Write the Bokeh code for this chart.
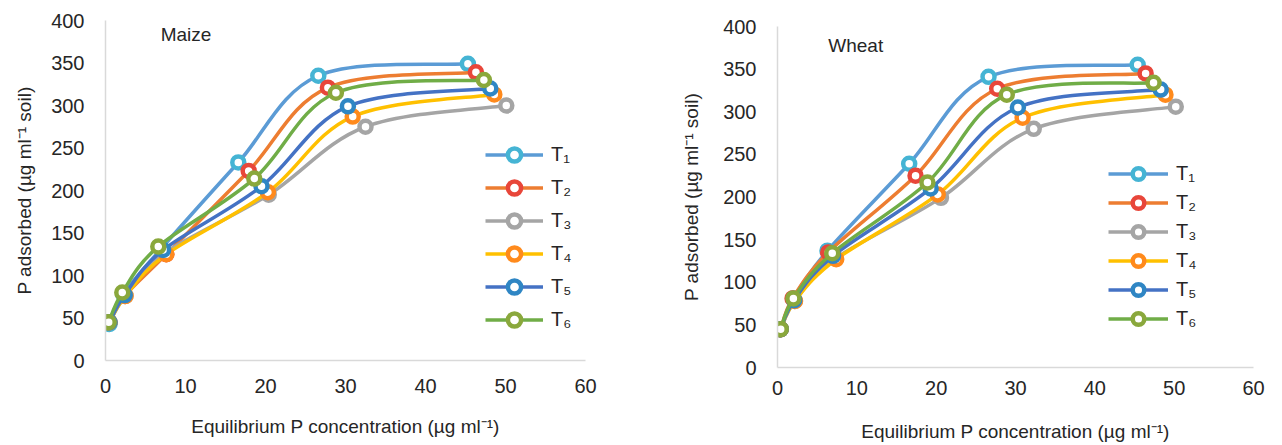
import numpy as np
from bokeh.plotting import figure
from bokeh.models import Range1d, FixedTicker, Legend, LegendItem, Label, Spacer
from bokeh.layouts import row, column
from bokeh.embed import file_html
from bokeh.resources import INLINE

# ---------------- data ----------------
series_labels = ["T\u2081", "T\u2082", "T\u2083", "T\u2084", "T\u2085", "T\u2086"]
x_ticks = [0, 10, 20, 30, 40, 50, 60]
y_ticks = [0, 50, 100, 150, 200, 250, 300, 350, 400]

# Maize
maize_t1_x = [0.5, 2.2, 7.0, 16.6, 26.6, 45.3]
maize_t1_y = [43, 78, 132, 233, 335, 349]
maize_t2_x = [0.5, 2.4, 7.6, 17.9, 27.8, 46.3]
maize_t2_y = [45, 76, 125, 223, 321, 339]
maize_t3_x = [0.5, 2.5, 7.5, 20.4, 32.5, 50.1]
maize_t3_y = [45, 76, 127, 195, 275, 300]
maize_t4_x = [0.5, 2.5, 7.6, 20.3, 30.9, 48.6]
maize_t4_y = [45, 76, 125, 198, 287, 313]
maize_t5_x = [0.5, 2.4, 7.2, 19.5, 30.3, 48.1]
maize_t5_y = [45, 77, 130, 205, 299, 320]
maize_t6_x = [0.4, 2.1, 6.6, 18.6, 28.8, 47.3]
maize_t6_y = [45, 80, 134, 214, 315, 330]

# Wheat
wheat_t1_x = [0.4, 2.0, 6.3, 16.6, 26.6, 45.4]
wheat_t1_y = [45, 81, 137, 239, 341, 355]
wheat_t2_x = [0.4, 1.9, 6.4, 17.4, 27.7, 46.4]
wheat_t2_y = [45, 81, 135, 225, 327, 345]
wheat_t3_x = [0.4, 2.2, 7.3, 20.6, 32.3, 50.2]
wheat_t3_y = [45, 78, 128, 199, 280, 306]
wheat_t4_x = [0.4, 2.2, 7.4, 20.2, 30.9, 48.9]
wheat_t4_y = [45, 78, 127, 203, 293, 320]
wheat_t5_x = [0.4, 2.1, 7.0, 19.3, 30.3, 48.3]
wheat_t5_y = [45, 79, 131, 210, 305, 326]
wheat_t6_x = [0.4, 2.0, 6.9, 18.9, 28.9, 47.4]
wheat_t6_y = [45, 81, 134, 217, 320, 334]

maize_series = [(maize_t1_x, maize_t1_y), (maize_t2_x, maize_t2_y), (maize_t3_x, maize_t3_y),
                (maize_t4_x, maize_t4_y), (maize_t5_x, maize_t5_y), (maize_t6_x, maize_t6_y)]
wheat_series = [(wheat_t1_x, wheat_t1_y), (wheat_t2_x, wheat_t2_y), (wheat_t3_x, wheat_t3_y),
                (wheat_t4_x, wheat_t4_y), (wheat_t5_x, wheat_t5_y), (wheat_t6_x, wheat_t6_y)]

# ---------------- style ----------------
line_colors = ["#5b9bd5", "#ed7d31", "#a5a5a5", "#ffc000", "#4472c4", "#70ad47"]
marker_colors = ["#45b4d4", "#e8463a", "#a5a5a5", "#ff8a1c", "#2f86c4", "#8aa83c"]
FONT = "Liberation Sans"
TXT = "#262626"


def smooth_controls(xs, ys):
    """Excel-style smoothed line: cubic Bezier control points from the data."""
    P = np.column_stack([xs, ys]).astype(float)
    n = len(P)
    x0, y0, x1, y1, cx0, cy0, cx1, cy1 = ([] for _ in range(8))
    for i in range(n - 1):
        pm = P[i - 1] if i > 0 else P[i]
        pn = P[i + 2] if i + 2 < n else P[i + 1]
        c1 = P[i] + (P[i + 1] - pm) / 6.0
        c2 = P[i + 1] - (pn - P[i]) / 6.0
        x0.append(P[i][0]); y0.append(P[i][1])
        x1.append(P[i + 1][0]); y1.append(P[i + 1][1])
        cx0.append(c1[0]); cy0.append(c1[1])
        cx1.append(c2[0]); cy1.append(c2[1])
    return dict(x0=x0, y0=y0, x1=x1, y1=y1, cx0=cx0, cy0=cy0, cx1=cx1, cy1=cy1)


def make_chart(series, title, width, height, bl, br, bt, bb, title_xy,
               legend_loc, glyph_w, glyph_h, tick_stand, xlab_stand, ylab_stand):
    p = figure(width=width, height=height, output_backend="svg", toolbar_location=None,
               x_range=Range1d(0, 60), y_range=Range1d(0, 400),
               min_border_left=bl, min_border_right=br, min_border_top=bt, min_border_bottom=bb)
    p.outline_line_color = None
    p.xgrid.visible = False
    p.ygrid.visible = False
    p.background_fill_color = "white"
    p.border_fill_color = "white"

    for ax in (p.xaxis[0], p.yaxis[0]):
        ax.axis_line_color = "#d9d9d9"
        ax.axis_line_width = 1.5
        ax.major_tick_line_color = None
        ax.minor_tick_line_color = None
        ax.major_label_text_font = FONT
        ax.major_label_text_font_size = "20px"
        ax.major_label_text_color = TXT
        ax.axis_label_text_font = FONT
        ax.axis_label_text_font_style = "normal"
        ax.axis_label_text_color = TXT
    p.xaxis.ticker = FixedTicker(ticks=x_ticks)
    p.yaxis.ticker = FixedTicker(ticks=y_ticks)
    p.xaxis.major_label_standoff = tick_stand
    p.yaxis.major_label_standoff = 15
    p.xaxis.axis_label = "Equilibrium P concentration (\u00b5g ml\u207b\u00b9)"
    p.yaxis.axis_label = "P adsorbed (\u00b5g ml\u207b\u00b9 soil)"
    p.xaxis.axis_label_text_font_size = "19px"
    p.yaxis.axis_label_text_font_size = "19px"
    p.xaxis.axis_label_standoff = xlab_stand
    p.yaxis.axis_label_standoff = ylab_stand

    items = []
    for (xs, ys), lc, mc, lab in zip(series, line_colors, marker_colors, series_labels):
        bz = p.bezier(x0="x0", y0="y0", x1="x1", y1="y1", cx0="cx0", cy0="cy0", cx1="cx1", cy1="cy1",
                      source=smooth_controls(xs, ys), line_color=lc, line_width=3.5)
        sc = p.scatter(xs, ys, marker="circle", size=12, fill_color="white",
                       line_color=mc, line_width=4.5)
        items.append(LegendItem(label=lab, renderers=[bz, sc]))

    legend = Legend(items=items, location=legend_loc, glyph_width=glyph_w, glyph_height=glyph_h,
                    spacing=0, padding=0, margin=0, label_standoff=8,
                    border_line_color=None, background_fill_alpha=0,
                    label_text_font=FONT, label_text_font_size="20px", label_text_color=TXT,
                    label_height=glyph_h)
    p.add_layout(legend)

    p.add_layout(Label(x=title_xy[0], y=title_xy[1], text=title, text_font=FONT,
                       text_font_size="19px", text_color=TXT, text_baseline="middle"))
    return p


left = make_chart(maize_series, "Maize", 640, 439, 105, 55, 20, 78, (6.9, 384),
                  (380, 24), 58, 33, 12, 20, 13)
right = make_chart(wheat_series, "Wheat", 642, 439, 137, 29, 20, 78, (6.4, 378),
                   (331, 34), 60, 29, 7, 23, 18)

layout = row(left, column(Spacer(width=642, height=6), right, spacing=0), spacing=0)
open("out.html", "w").write(file_html(layout, INLINE))
